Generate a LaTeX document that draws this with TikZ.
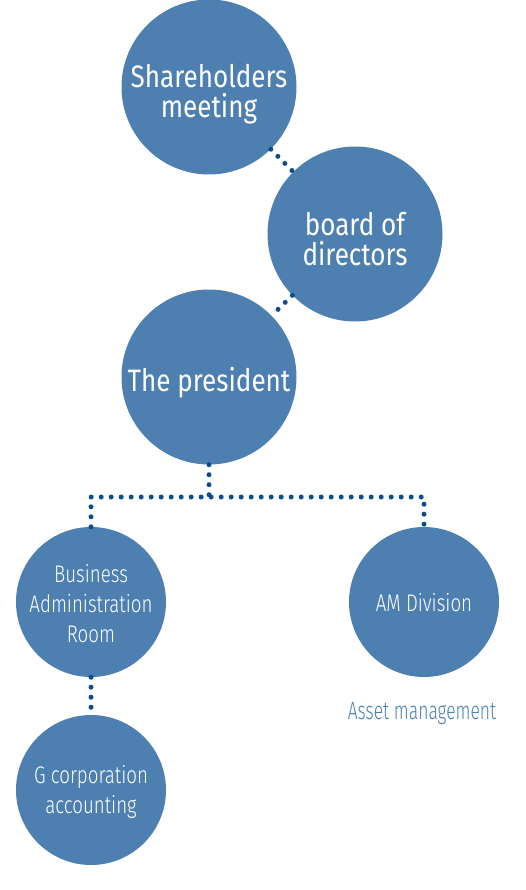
\documentclass[tikz,border=0pt]{standalone}
\usepackage{fontspec}
\setmainfont{Fira Sans}
\newfontfamily\condfont[FakeStretch=0.84]{Fira Sans}
\newfontfamily\condlight[FakeStretch=0.78]{Fira Sans Light}
\newfontfamily\narrowlight[FakeStretch=0.70]{Fira Sans Light}
\usepackage{tikz}
\usetikzlibrary{
  positioning,
  calc
}
\definecolor{orgblue}{HTML}{4D80B0}
\definecolor{dotblue}{HTML}{0E4C8C}

\begin{document}
\begin{tikzpicture}[x=1pt, y=-1pt,
  bigball/.style={circle, fill=orgblue, minimum size=175pt, inner sep=0pt},
  smallball/.style={circle, fill=orgblue, minimum size=150pt, inner sep=0pt},
  bigtext/.style={text=white, align=center, inner sep=0pt,
    font=\condfont\fontsize{31}{30}\selectfont},
  smalltext/.style={text=white, align=center, inner sep=0pt,
    font=\condlight\fontsize{24}{30}\selectfont},
  dotline/.style={draw=dotblue, line width=5pt, line cap=round,
    dash pattern=on 0pt off 10pt}]
  \useasboundingbox (0,0) rectangle (526,890);

  % circles
  \node[bigball]   (share) at (209,87)  {};
  \node[bigball]   (board) at (355,234) {};
  \node[bigball]   (pres)  at (209,377) {};
  \node[smallball] (bus)   at (91,602)  {};
  \node[smallball] (am)    at (424,602) {};
  \node[smallball] (gcorp) at (91,790)  {};

  % texts
  \node[bigtext]   (share-t) at ([yshift=-7pt]share.center)   {Shareholders\\meeting};
  \node[bigtext]   (board-t) at ([yshift=-5.5pt]board.center) {board of\\directors};
  \node[bigtext]   (pres-t)  at ([yshift=-6pt]pres.center)    {The president};
  \node[smalltext] (bus-t)   at ([yshift=-1.5pt]bus.center)   {Business\\Administration\\Room};
  \node[smalltext] (am-t)    at ([yshift=-1pt]am.center)      {AM Division};
  \node[smalltext] (gcorp-t) at ([yshift=-2pt]gcorp.center)   {G corporation\\accounting};
  \node[anchor=base, inner sep=0pt, text=orgblue,
    font=\narrowlight\fontsize{25}{30}\selectfont] (am-note) at (422,719) {Asset management};

  % dotted links
  \coordinate (fork) at (209,497);
  \draw[dotline] (share) -- (board);
  \draw[dotline] (board) -- (pres);
  \draw[dotline] (pres.south) -- (fork);
  \draw[dotline] (bus.north) |- (fork) -| (am.north);
  \draw[dotline] (bus) -- (gcorp);
\end{tikzpicture}
\end{document}
